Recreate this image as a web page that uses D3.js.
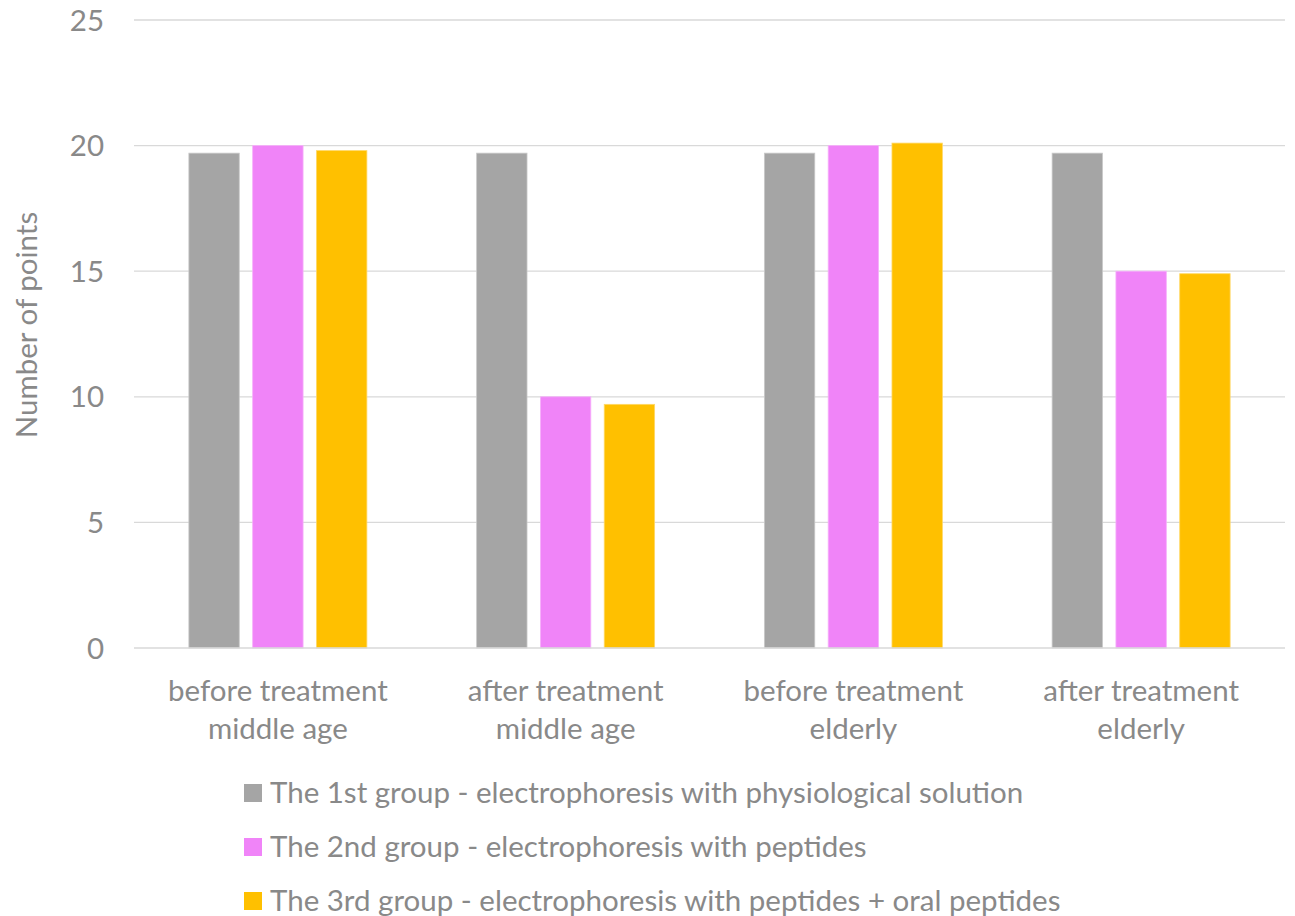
<!DOCTYPE html>
<html>
<head>
<meta charset="utf-8">
<script src="https://cdn.jsdelivr.net/npm/d3@7"></script>
<style>
  body { margin: 0; background: #fff; }
  text { font-family: Lato, "Open Sans", sans-serif; fill: #898989; }
</style>
</head>
<body>
<svg id="chart" width="1295" height="916"></svg>
<script>
// ----------

const CATEGORIES = [
  ["before treatment", "middle age"],
  ["after treatment", "middle age"],
  ["before treatment", "elderly"],
  ["after treatment", "elderly"]
];
const SERIES_NAMES = [
  "The 1st group - electrophoresis with physiological solution",
  "The 2nd group - electrophoresis with peptides",
  "The 3rd group - electrophoresis with peptides + oral peptides"
];
const GROUP1_VALUES = [19.7, 19.7, 19.7, 19.7];
const GROUP2_VALUES = [20.0, 10.0, 20.0, 15.0];
const GROUP3_VALUES = [19.8, 9.7, 20.1, 14.9];
const Y_TICKS = [0, 5, 10, 15, 20, 25];
const Y_LABEL = "Number of points";

const COLORS = ["#a5a5a5", "#f084f8", "#ffc000"];
const STROKES = ["#c9c9c9", "#f6b0fa", "#ffd866"];

const FONT_SIZE = "29.5px";

// ----------

const svg = d3.select("#chart");
const plotLeft = 134, plotRight = 1285, plotTop = 20, plotBottom = 648;

const seriesValues = [GROUP1_VALUES, GROUP2_VALUES, GROUP3_VALUES];
const rows = CATEGORIES.map((c, i) => ({
  key: i,
  values: seriesValues.map((vals, s) => ({ s: s, v: vals[i] }))
}));

const x0 = d3.scaleBand().domain(d3.range(CATEGORIES.length)).range([plotLeft, plotRight]);
const groupWidth = 178;
const x1 = d3.scaleBand().domain(d3.range(SERIES_NAMES.length))
  .range([0, groupWidth]).paddingInner(0.21);
const y = d3.scaleLinear().domain([0, 25]).range([plotBottom, plotTop]);

// gridlines
svg.append("g")
  .selectAll("line")
  .data(Y_TICKS.filter(d => d > 0))
  .enter()
  .append("line")
  .attr("x1", plotLeft).attr("x2", plotRight)
  .attr("y1", d => y(d)).attr("y2", d => y(d))
  .attr("stroke", "#d9d9d9").attr("stroke-width", 1.3);

// y tick labels
svg.append("g")
  .selectAll("text")
  .data(Y_TICKS)
  .enter()
  .append("text")
  .attr("x", 104)
  .attr("y", d => y(d))
  .attr("dy", "0.36em")
  .attr("text-anchor", "end")
  .style("font-size", FONT_SIZE)
  .text(d => d);

// bars
const groups = svg.append("g")
  .selectAll("g")
  .data(rows)
  .enter()
  .append("g")
  .attr("transform", d => "translate(" + (x0(d.key) + (x0.bandwidth() - groupWidth) / 2) + ",0)");

groups.selectAll("rect")
  .data(d => d.values)
  .enter()
  .append("rect")
  .attr("x", d => x1(d.s))
  .attr("y", d => y(d.v))
  .attr("width", x1.bandwidth())
  .attr("height", d => y(0) - y(d.v))
  .attr("fill", d => COLORS[d.s])
  .attr("stroke", d => STROKES[d.s])
  .attr("stroke-width", 0.8);

// baseline
svg.append("line")
  .attr("x1", plotLeft).attr("x2", plotRight)
  .attr("y1", y(0)).attr("y2", y(0))
  .attr("stroke", "#d9d9d9").attr("stroke-width", 1.3);

// x labels, two lines each
const xl = svg.append("g")
  .selectAll("text")
  .data(CATEGORIES)
  .enter()
  .append("text")
  .attr("text-anchor", "middle")
  .attr("x", (d, i) => x0(i) + x0.bandwidth() / 2)
  .attr("y", 701)
  .style("font-size", FONT_SIZE);
xl.selectAll("tspan")
  .data(d => d)
  .enter()
  .append("tspan")
  .attr("x", function () { return d3.select(this.parentNode).attr("x"); })
  .attr("dy", (d, i) => i === 0 ? 0 : 38)
  .text(d => d);

// y axis title
svg.append("text")
  .attr("transform", "translate(37,325) rotate(-90)")
  .attr("text-anchor", "middle")
  .style("font-size", FONT_SIZE)
  .text(Y_LABEL);

// legend
const legend = svg.append("g")
  .selectAll("g")
  .data(SERIES_NAMES)
  .enter()
  .append("g")
  .attr("transform", (d, i) => "translate(244," + (803 + i * 54) + ")");
legend.append("rect")
  .attr("x", 0).attr("y", -19)
  .attr("width", 18).attr("height", 18)
  .attr("fill", (d, i) => COLORS[i]);
legend.append("text")
  .attr("x", 26)
  .style("font-size", FONT_SIZE)
  .text(d => d);
</script>
</body>
</html>
